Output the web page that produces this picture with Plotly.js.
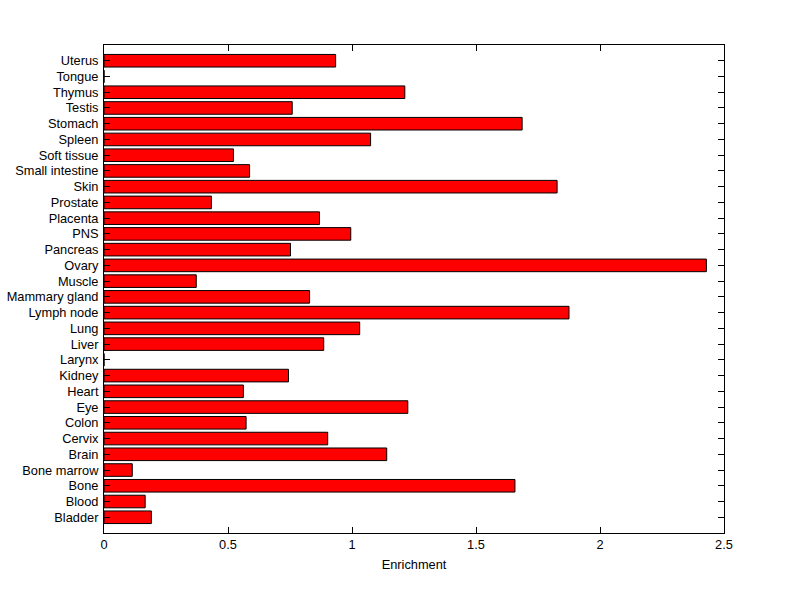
<!DOCTYPE html>
<html>
<head>
<meta charset="utf-8">
<script src="https://cdn.plot.ly/plotly-3.0.1.min.js"></script>
<style>html,body{margin:0;padding:0;background:#fff;}#chart{width:800px;height:599px;}</style>
</head>
<body>
<div id="chart"></div>
<script>
const tissues = ["Bladder","Blood","Bone","Bone marrow","Brain","Cervix","Colon","Eye","Heart","Kidney","Larynx","Liver","Lung","Lymph node","Mammary gland","Muscle","Ovary","Pancreas","PNS","Placenta","Prostate","Skin","Small intestine","Soft tissue","Spleen","Stomach","Testis","Thymus","Tongue","Uterus"];
const enrichment = [0.191,0.166,1.657,0.114,1.140,0.902,0.573,1.225,0.562,0.744,0,0.886,1.031,1.875,0.829,0.372,2.429,0.752,0.995,0.869,0.433,1.827,0.587,0.522,1.075,1.686,0.759,1.213,0,0.934];
const xTicks = [0,0.5,1,1.5,2,2.5];
const xTickLabels = ["0","0.5","1","1.5","2","2.5"];

const font = {family: "Liberation Sans, Arial, sans-serif", size: 12.8, color: "#000"};

Plotly.newPlot("chart", [{
  type: "bar",
  orientation: "h",
  y: tissues,
  x: enrichment,
  width: 0.8,
  marker: {color: "#ff0000", line: {color: "#000", width: 1}},
  hoverinfo: "none"
}], {
  width: 800, height: 599,
  margin: {l: 104, r: 76, t: 45, b: 66, pad: 0},
  paper_bgcolor: "#fff", plot_bgcolor: "#fff",
  showlegend: false,
  font: font,
  xaxis: {
    range: [0, 2.5],
    tickvals: xTicks, ticktext: xTickLabels,
    ticks: "inside", ticklen: 6, tickcolor: "#000", tickwidth: 1,
    showline: true, linecolor: "#000", linewidth: 1, mirror: "allticks",
    showgrid: false, zeroline: false,
    tickfont: font,
    title: {text: "Enrichment", font: font, standoff: 8}
  },
  yaxis: {
    type: "category",
    categoryorder: "array", categoryarray: tissues,
    range: [-1, 30],
    ticks: "inside", ticklen: 6, tickcolor: "#000", tickwidth: 1,
    showline: true, linecolor: "#000", linewidth: 1, mirror: "allticks",
    showgrid: false, zeroline: false,
    tickfont: font,
    ticklabelstandoff: 2
  }
}, {staticPlot: true});
</script>
</body>
</html>
